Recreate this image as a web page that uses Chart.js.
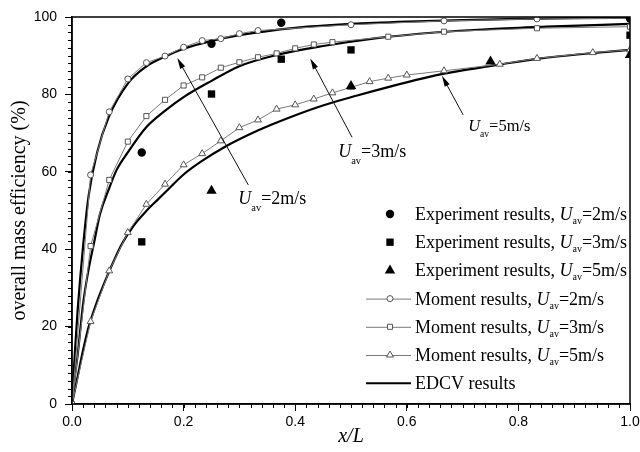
<!DOCTYPE html>
<html>
<head>
<meta charset="utf-8">
<script src="https://cdn.jsdelivr.net/npm/chart.js@4.4.1/dist/chart.umd.min.js"></script>
<style>
  html, body { margin: 0; padding: 0; background: #fff; }
</style>
</head>
<body>
<canvas id="chart" width="640" height="452"></canvas>
<script>
/* =========================
   DATA
========================= */

// moment results (open markers)
const xMom2 = [0, 0.0333, 0.0667, 0.1, 0.1333, 0.1667, 0.2, 0.2333, 0.2667, 0.3, 0.3333, 0.5, 0.6667, 0.8333, 1.0];
const yMom2 = [0, 59.2, 75.5, 84.0, 88.2, 89.9, 92.2, 93.9, 94.4, 95.7, 96.5, 98.0, 99.0, 99.5, 99.7];

const xMom3 = [0, 0.0333, 0.0667, 0.1, 0.1333, 0.1667, 0.2, 0.2333, 0.2667, 0.3, 0.3333, 0.3667, 0.4, 0.4333, 0.4667, 0.5667, 0.6667, 0.8333, 1.0];
const yMom3 = [0, 40.8, 57.9, 67.8, 74.4, 78.6, 82.3, 84.4, 86.9, 88.3, 89.6, 90.6, 91.9, 92.9, 93.5, 94.9, 96.2, 97.1, 97.5];

const xMom5 = [0, 0.0333, 0.0667, 0.1, 0.1333, 0.1667, 0.2, 0.2333, 0.2667, 0.3, 0.3333, 0.3667, 0.4, 0.4333, 0.4667, 0.5, 0.5333, 0.5667, 0.6, 0.6667, 0.7667, 0.8333, 0.9333, 1.0];
const yMom5 = [0, 21.3, 34.4, 44.3, 51.6, 56.8, 61.8, 64.7, 68.0, 71.4, 73.4, 76.2, 77.3, 78.8, 80.4, 81.8, 83.3, 84.2, 85.0, 86.1, 87.8, 89.3, 90.8, 91.5];

// EDCV results (thick solid curves)
const xEdcv2 = [0, 0.005, 0.01, 0.02, 0.03, 0.045, 0.066, 0.1, 0.133, 0.167, 0.2, 0.25, 0.3, 0.4, 0.5, 0.6, 0.7, 0.8, 0.9, 1.0];
const yEdcv2 = [0, 13, 24, 41, 54, 65, 74.2, 82.8, 87.2, 89.8, 91.8, 93.8, 95.3, 97.2, 98.2, 98.8, 99.2, 99.5, 99.7, 99.8];

const xEdcv3 = [0, 0.005, 0.01, 0.02, 0.03, 0.04, 0.05, 0.066, 0.08, 0.1, 0.133, 0.167, 0.2, 0.25, 0.3, 0.367, 0.45, 0.55, 0.65, 0.75, 0.85, 1.0];
const yEdcv3 = [0, 7, 12.5, 26, 35, 42, 49, 55.5, 60.5, 65, 71.5, 75.8, 79.3, 83.5, 87.3, 90.2, 92.5, 94.6, 96.0, 96.9, 97.5, 98.2];

const xEdcv5 = [0, 0.01, 0.02, 0.03, 0.045, 0.06, 0.075, 0.09, 0.11, 0.132, 0.155, 0.174, 0.2, 0.233, 0.272, 0.332, 0.391, 0.451, 0.511, 0.57, 0.642, 0.7, 0.77, 0.84, 0.92, 1.0];
const yEdcv5 = [0, 7, 14, 20, 26.5, 32, 37, 41.5, 46, 49.7, 53.0, 55.7, 59.3, 62.8, 66.3, 70.6, 74.1, 77.2, 79.7, 82.0, 84.6, 86.2, 87.8, 89.3, 90.5, 91.5];

// experiment results (filled markers)
const xExp2 = [0.125, 0.25, 0.375, 1.0];
const yExp2 = [65.0, 93.1, 98.5, 99.6];

const xExp3 = [0.125, 0.25, 0.375, 0.5, 1.0];
const yExp3 = [41.9, 80.1, 89.1, 91.5, 95.3];

const xExp5 = [0.25, 0.5, 0.75, 1.0];
const yExp5 = [55.1, 82.2, 88.5, 90.2];

const xTicks = [0, 0.2, 0.4, 0.6, 0.8, 1.0];
const yTicks = [0, 20, 40, 60, 80, 100];

/* =========================
   HELPERS
========================= */

function toPoints(xs, ys) {
    return xs.map((x, i) => ({ x: x, y: ys[i] }));
}

const SERIF = '"Liberation Serif", "DejaVu Serif", serif';
const SANS = '"Liberation Sans", Arial, sans-serif';

function drawUav(ctx, x, y, size, subSize, subDrop, before, after) {
    let cx = x;
    ctx.textAlign = "left";
    ctx.textBaseline = "alphabetic";
    if (before) {
        ctx.font = size + "px " + SERIF;
        ctx.fillText(before, cx, y);
        cx += ctx.measureText(before).width;
    }
    ctx.font = "italic " + size + "px " + SERIF;
    ctx.fillText("U", cx, y);
    cx += ctx.measureText("U").width;
    ctx.font = subSize + "px " + SERIF;
    ctx.fillText("av", cx, y + subDrop);
    cx += ctx.measureText("av").width;
    ctx.font = size + "px " + SERIF;
    ctx.fillText(after, cx, y);
}

function drawArrow(ctx, x1, y1, x2, y2) {
    const ang = Math.atan2(y2 - y1, x2 - x1);
    const len = 11, half = 2.8;
    ctx.beginPath();
    ctx.moveTo(x1, y1);
    ctx.lineTo(x2 - Math.cos(ang) * len * 0.8, y2 - Math.sin(ang) * len * 0.8);
    ctx.stroke();
    ctx.beginPath();
    ctx.moveTo(x2, y2);
    ctx.lineTo(x2 - Math.cos(ang) * len + Math.sin(ang) * half, y2 - Math.sin(ang) * len - Math.cos(ang) * half);
    ctx.lineTo(x2 - Math.cos(ang) * len - Math.sin(ang) * half, y2 - Math.sin(ang) * len + Math.cos(ang) * half);
    ctx.closePath();
    ctx.fill();
}

function drawMarker(ctx, style, x, y, r, fill, stroke) {
    ctx.beginPath();
    if (style === "circle") {
        ctx.arc(x, y, r, 0, Math.PI * 2);
    } else if (style === "rect") {
        const s = r * Math.SQRT1_2;
        ctx.rect(x - s, y - s, 2 * s, 2 * s);
    } else {
        ctx.moveTo(x, y - r);
        ctx.lineTo(x + r * 0.866, y + r * 0.5);
        ctx.lineTo(x - r * 0.866, y + r * 0.5);
        ctx.closePath();
    }
    ctx.fillStyle = fill;
    ctx.fill();
    if (stroke) {
        ctx.strokeStyle = stroke;
        ctx.lineWidth = 1;
        ctx.stroke();
    }
}

/* =========================
   DATASETS
========================= */

const MOM_COLOR = "#7a7a7a";

function momentSet(xs, ys, style, r) {
    return {
        data: toPoints(xs, ys),
        showLine: true,
        borderColor: MOM_COLOR,
        borderWidth: 1,
        pointStyle: style,
        pointRadius: r,
        pointBackgroundColor: "#fff",
        pointBorderColor: "#555",
        pointBorderWidth: 1,
        order: 1
    };
}

function edcvSet(xs, ys) {
    return {
        data: toPoints(xs, ys),
        showLine: true,
        borderColor: "#000",
        borderWidth: 2.2,
        pointRadius: 0,
        cubicInterpolationMode: "monotone",
        order: 2
    };
}

function expSet(xs, ys, style, r) {
    return {
        data: toPoints(xs, ys),
        showLine: false,
        pointStyle: style,
        pointRadius: r,
        pointBackgroundColor: "#000",
        pointBorderColor: "#000",
        pointBorderWidth: 0,
        order: 0
    };
}

const datasets = [
    expSet(xExp2, yExp2, "circle", 4.2),
    expSet(xExp3, yExp3, "rect", 5.2),
    expSet(xExp5, yExp5, "triangle", 6),
    momentSet(xMom2, yMom2, "circle", 3),
    momentSet(xMom3, yMom3, "rect", 3.6),
    momentSet(xMom5, yMom5, "triangle", 4),
    edcvSet(xEdcv2, yEdcv2),
    edcvSet(xEdcv3, yEdcv3),
    edcvSet(xEdcv5, yEdcv5)
];

/* =========================
   DECORATION PLUGIN
========================= */

const decorPlugin = {
    id: "decor",
    afterDraw(chart) {
        const ctx = chart.ctx;
        const { left, right, top, bottom } = chart.chartArea;
        const xs = chart.scales.x;
        const ys = chart.scales.y;

        ctx.save();

        // frame
        ctx.strokeStyle = "#000";
        ctx.lineWidth = 1.5;
        ctx.strokeRect(left, top, right - left, bottom - top);

        // minor ticks
        ctx.lineWidth = 1;
        ctx.beginPath();
        for (let i = 0; i <= 50; i++) {
            const px = Math.round(xs.getPixelForValue(i * 0.02)) + 0.5;
            ctx.moveTo(px, bottom);
            ctx.lineTo(px, bottom + 4);
        }
        for (let i = 0; i <= 50; i++) {
            const py = Math.round(ys.getPixelForValue(i * 2)) + 0.5;
            ctx.moveTo(left, py);
            ctx.lineTo(left - 4, py);
        }
        ctx.stroke();

        // arrows + labels
        ctx.fillStyle = "#000";
        ctx.strokeStyle = "#111";
        ctx.lineWidth = 1;
        const notes = [
            { tail: [0.316, 56.6], tip: [0.1887, 89.4], at: [0.298, 51.6], text: "=2m/s", size: 18, drop: 7 },
            { tail: [0.502, 68.9], tip: [0.427, 89.3], at: [0.477, 63.7], text: "=3m/s", size: 18, drop: 7 },
            { tail: [0.701, 74.7], tip: [0.663, 84.8], at: [0.710, 70.5], text: "=5m/s", size: 16.5, drop: 6 }
        ];
        notes.forEach(n => {
            drawArrow(ctx,
                xs.getPixelForValue(n.tail[0]), ys.getPixelForValue(n.tail[1]),
                xs.getPixelForValue(n.tip[0]), ys.getPixelForValue(n.tip[1]));
            drawUav(ctx, xs.getPixelForValue(n.at[0]), ys.getPixelForValue(n.at[1]),
                n.size, n.size * 0.58, n.drop, "", n.text);
        });

        // legend
        const rows = [
            { kind: "exp", style: "circle", r: 4.2, pre: "Experiment results, ", post: "=2m/s" },
            { kind: "exp", style: "rect", r: 5.2, pre: "Experiment results, ", post: "=3m/s" },
            { kind: "exp", style: "triangle", r: 6, pre: "Experiment results, ", post: "=5m/s" },
            { kind: "mom", style: "circle", r: 3, pre: "Moment results, ", post: "=2m/s" },
            { kind: "mom", style: "rect", r: 3.6, pre: "Moment results, ", post: "=3m/s" },
            { kind: "mom", style: "triangle", r: 4, pre: "Moment results, ", post: "=5m/s" },
            { kind: "edcv", pre: "EDCV results" }
        ];
        const lx0 = 366, lx1 = 411, mx = 390, tx = 415;
        rows.forEach((row, i) => {
            const cy = 214 + i * 28.2;
            if (row.kind === "mom") {
                ctx.strokeStyle = MOM_COLOR;
                ctx.lineWidth = 1;
                ctx.beginPath();
                ctx.moveTo(lx0, cy + 0.5);
                ctx.lineTo(lx1, cy + 0.5);
                ctx.stroke();
                drawMarker(ctx, row.style, mx, cy, row.r, "#fff", "#555");
            } else if (row.kind === "exp") {
                drawMarker(ctx, row.style, mx, cy, row.r, "#000", null);
            } else {
                ctx.strokeStyle = "#000";
                ctx.lineWidth = 2;
                ctx.beginPath();
                ctx.moveTo(lx0, cy);
                ctx.lineTo(lx1, cy);
                ctx.stroke();
            }
            ctx.fillStyle = "#000";
            if (row.kind === "edcv") {
                ctx.font = "18px " + SERIF;
                ctx.textAlign = "left";
                ctx.textBaseline = "alphabetic";
                ctx.fillText(row.pre, tx, cy + 6);
            } else {
                drawUav(ctx, tx, cy + 6, 18, 10, 4, row.pre, row.post);
            }
        });

        ctx.restore();
    }
};

/* =========================
   CHART
========================= */

new Chart(document.getElementById("chart"), {
    type: "scatter",
    data: { datasets: datasets },
    options: {
        responsive: false,
        animation: false,
        layout: { padding: { top: 17, right: 10, left: 0, bottom: 0 } },
        plugins: {
            legend: { display: false },
            tooltip: { enabled: false }
        },
        scales: {
            x: {
                type: "linear",
                min: 0,
                max: 1,
                border: { color: "#000", width: 1.5 },
                grid: { drawOnChartArea: false, tickLength: 7, tickColor: "#000", tickWidth: 1 },
                afterBuildTicks: s => { s.ticks = xTicks.map(v => ({ value: v })); },
                ticks: {
                    padding: 3,
                    color: "#000",
                    maxRotation: 0,
                    font: { family: SANS, size: 14 },
                    callback: v => Number(v).toFixed(1)
                },
                title: {
                    display: true,
                    text: "x/L",
                    color: "#000",
                    font: { family: SERIF, size: 20, style: "italic" },
                    padding: { top: 0, bottom: 3 }
                },
                afterFit: s => { s.height = 48; s.paddingLeft = 0; s.paddingRight = 0; }
            },
            y: {
                type: "linear",
                min: 0,
                max: 100,
                border: { color: "#000", width: 1.5 },
                grid: { drawOnChartArea: false, tickLength: 7, tickColor: "#000", tickWidth: 1 },
                afterBuildTicks: s => { s.ticks = yTicks.map(v => ({ value: v })); },
                ticks: {
                    padding: 8,
                    color: "#000",
                    font: { family: SANS, size: 14 }
                },
                title: {
                    display: true,
                    text: "overall mass efficiency (%)",
                    color: "#000",
                    font: { family: SERIF, size: 20 },
                    padding: { top: 8, bottom: 0 }
                },
                afterFit: s => { s.width = 72; s.paddingTop = 0; s.paddingBottom = 0; }
            }
        }
    },
    plugins: [decorPlugin]
});
</script>
</body>
</html>
